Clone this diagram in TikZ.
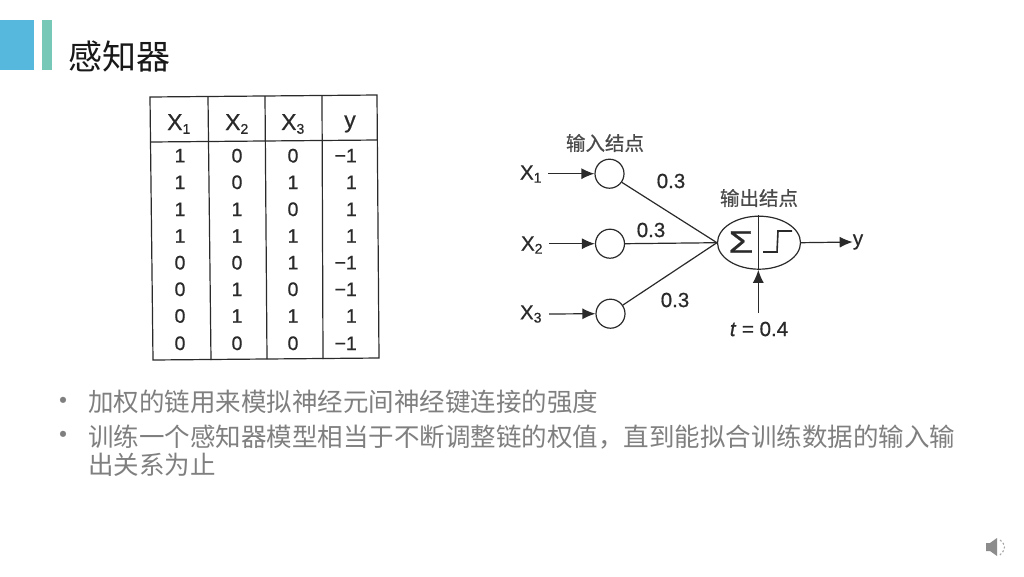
\documentclass[tikz,border=0pt]{standalone}
\usepackage{fontspec}
\setmainfont[FakeBold=0.6]{Liberation Sans}
\newfontfamily\cjk{Noto Sans CJK SC}
\newfontfamily\cjkb[FakeBold=0.5]{Noto Sans CJK SC}
\usetikzlibrary{shapes.geometric,arrows.meta}
\definecolor{ink}{HTML}{2A2A2A}
\definecolor{bodygray}{HTML}{7F7F7F}
\definecolor{bluebar}{HTML}{55B8DC}
\definecolor{greenbar}{HTML}{78C8B8}
\tikzset{
  tline/.style={draw=ink,line width=1.2pt},
  cell/.style={font=\fontsize{19.5}{22}\selectfont,text=ink,inner sep=0pt},
  head/.style={font=\fontsize{23}{26}\selectfont,text=ink,inner sep=0pt},
  dlab/.style={font=\fontsize{20.5}{24}\selectfont,text=ink,inner sep=0pt},
  cjklab/.style={font=\cjkb\fontsize{19.5}{22}\selectfont,text=ink!85,inner sep=0pt},
  innode/.style={circle,draw=ink,line width=1.2pt,minimum size=29pt,inner sep=0pt},
  wire/.style={draw=ink,line width=1.2pt},
  arr/.style={wire,-{Latex[length=13pt,width=11pt]}},
  body/.style={font=\cjk\fontsize{25.5}{28}\selectfont,text=bodygray,inner sep=0pt,align=left},
}
\newcommand{\xsub}[1]{X\textsubscript{\fontsize{14}{14}\selectfont #1}}
\begin{document}
\begin{tikzpicture}[x=1pt,y=-1pt]
\useasboundingbox (0,0) rectangle (1024,576);
\fill[white] (0,0) rectangle (1024,576);
% header bars
\fill[bluebar] (0,20) rectangle (34,70);
\fill[greenbar] (42,20) rectangle (52,70);
\node[font=\cjk\fontsize{34}{38}\selectfont,text=black!90,inner sep=0pt] (title) at (119,57) {感知器};
% table rules
\draw[tline] (150,97) -- (377,95) -- (379,358) -- (153,360) -- cycle;
\draw[tline] (150.5,142) -- (377.3,140);
\draw[tline] (208,97) -- (211,360);
\draw[tline] (265,96) -- (267,359);
\draw[tline] (322,96) -- (323,359);
% table head
\node[head] (h1) at (179,124) {\xsub{1}};
\node[head] (h2) at (237,124) {\xsub{2}};
\node[head] (h3) at (293,124) {\xsub{3}};
\node[head] (h4) at (350,124) {y};
% table body
\foreach \r/\yy/\a/\b/\c/\d in {
 1/155.7/1/0/0/−1, 2/182.3/1/0/1/1, 3/209.3/1/1/0/1, 4/236/1/1/1/1,
 5/262.7/0/0/1/−1, 6/289.3/0/1/0/−1, 7/316/0/1/1/1, 8/343.3/0/0/0/−1}{
  \node[cell] (c\r a) at (180,\yy) {\a};
  \node[cell] (c\r b) at (237,\yy) {\b};
  \node[cell] (c\r c) at (293,\yy) {\c};
  \node[cell,anchor=east] (c\r d) at (357,\yy) {\d};
}
% perceptron
\node[cjklab] (intitle) at (605,143) {输入结点};
\node[cjklab] (outtitle) at (759,198) {输出结点};
\node[innode] (n1) at (609.5,173.7) {};
\node[innode] (n2) at (610,243.7) {};
\node[innode] (n3) at (610.5,313.7) {};
\node[ellipse,draw=ink,line width=1.2pt,minimum width=83pt,minimum height=53pt,inner sep=0pt] (out) at (759,242.7) {};
\node[dlab,anchor=center] (x1) at (531,174) {\xsub{1}};
\node[dlab,anchor=center] (x2) at (532,245) {\xsub{2}};
\node[dlab,anchor=center] (x3) at (531,314) {\xsub{3}};
\coordinate (a1) at (548,173.7);
\coordinate (a2) at (549,243.7);
\coordinate (a3) at (549,314);
\draw[arr] (a1) -- (n1.west);
\draw[arr] (a2) -- (n2.west);
\draw[arr] (a3) -- (n3.west);
\draw[wire] (n1.-35) -- (out.west);
\draw[wire] (n2.east) -- (out.west);
\draw[wire] (n3.35) -- (out.west);
\node[dlab] (w1) at (671,181) {0.3};
\node[dlab] (w2) at (651,230) {0.3};
\node[dlab] (w3) at (675,300) {0.3};
\coordinate (divtop) at (758.3,215);
\coordinate (thr) at (758.3,313);
\draw[wire] (divtop) -- (out.south-|divtop);
\draw[arr] (thr) -- (out.south-|thr);
\node[font=\fontsize{31}{34}\selectfont,text=ink,inner sep=0pt,xscale=1.3] (sum) at (741,242) {Σ};
\coordinate (s1) at (763,252);
\coordinate (s2) at (777,252);
\coordinate (s3) at (778,231);
\coordinate (s4) at (792,231);
\draw[draw=ink,line width=1.6pt] (s1) -- (s2) -- (s3) -- (s4);
\node[dlab] (yout) at (858,242) {y};
\draw[arr] (out.east) -- (yout.west);
\node[dlab] (tval) at (759,329) {\textit{t} = 0.4};
% bullets
\node[text=bodygray,font=\fontsize{22}{24}\selectfont,inner sep=0pt] (b1) at (63,402) {•};
\node[text=bodygray,font=\fontsize{22}{24}\selectfont,inner sep=0pt] (b2) at (63,436) {•};
\node[body,anchor=west] (t1) at (88,402) {加权的链用来模拟神经元间神经键连接的强度};
\node[body,anchor=north west] (t2) at (88,425) {训练一个感知器模型相当于不断调整链的权值^^^^ff0c直到能拟合训练数据的输入输\\出关系为止};
% speaker icon
\fill[black!45] (986,543) -- (990,543) -- (997,538) -- (997,556) -- (990,551) -- (986,551) -- cycle;
\draw[black!35,line width=1.1pt,dash pattern=on 2pt off 2pt] (1000,540) .. controls (1006,545) and (1006,549) .. (1000,555);
\end{tikzpicture}
\end{document}
